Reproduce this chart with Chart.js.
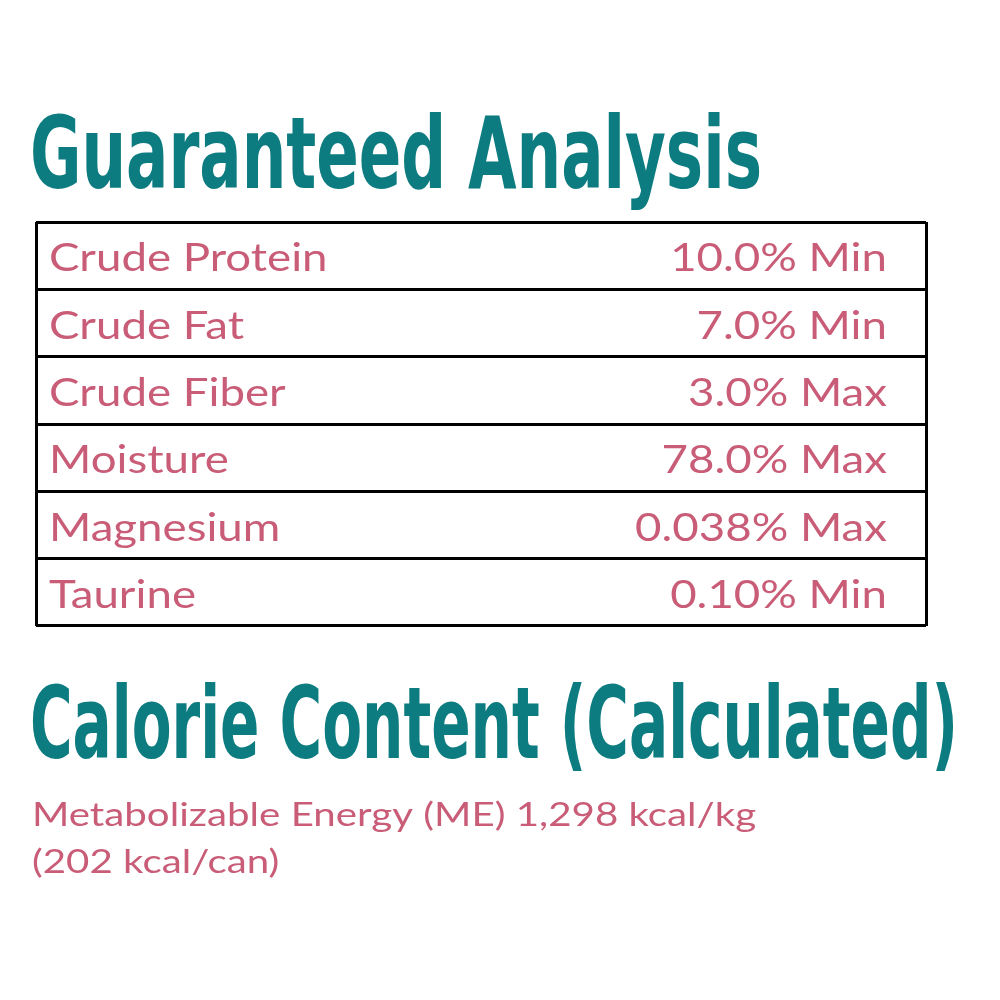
<!DOCTYPE html>
<html>
<head>
<meta charset="utf-8">
<script src="https://cdn.jsdelivr.net/npm/chart.js@4"></script>
<style>
  html, body { margin: 0; padding: 0; background: #fff; }
  #wrap { width: 1000px; height: 1000px; }
</style>
</head>
<body>
<div id="wrap"><canvas id="panel"></canvas></div>
<script>
var title = "Guaranteed Analysis";
var subtitle = "Calorie Content (Calculated)";
var nutrients = ["Crude Protein", "Crude Fat", "Crude Fiber", "Moisture", "Magnesium", "Taurine"];
var amounts = ["10.0% Min", "7.0% Min", "3.0% Max", "78.0% Max", "0.038% Max", "0.10% Min"];
var energyLines = ["Metabolizable Energy (ME) 1,298 kcal/kg", "(202 kcal/can)"];

var teal = "#0d7c80";
var rose = "#c95c77";

// draw a heading squeezed to a target width
function fitText(ctx, txt, x, y, size, width) {
    ctx.save();
    ctx.font = "bold " + size + "px 'DejaVu Sans Condensed', 'DejaVu Sans'";
    var w = ctx.measureText(txt).width;
    ctx.translate(x, y);
    ctx.scale(width / w, 1);
    ctx.fillStyle = teal;
    ctx.textBaseline = "alphabetic";
    ctx.fillText(txt, 0, 0);
    ctx.restore();
}

// text stretched sideways by sx, anchored at x
function wideText(ctx, txt, x, y, sx, align) {
    ctx.save();
    ctx.translate(x, y);
    ctx.scale(sx, 1);
    ctx.textAlign = align;
    ctx.fillText(txt, 0, 0);
    ctx.restore();
}

const tableText = {
    id: "tableText",
    afterDraw(chart) {
        var ctx = chart.ctx;
        var yScale = chart.scales.y;
        var area = chart.chartArea;
        ctx.save();
        ctx.fillStyle = rose;
        ctx.font = "39px Lato";
        ctx.textBaseline = "middle";
        for (let i = 0; i < nutrients.length; i++) {
            let y = yScale.getPixelForValue(i) + 3;
            wideText(ctx, nutrients[i], area.left + 13, y, 1.17, "left");
            wideText(ctx, amounts[i], 887, y, 1.17, "right");
        }
        ctx.font = "33px Lato";
        ctx.textBaseline = "alphabetic";
        wideText(ctx, energyLines[0], 32, 826, 1.22, "left");
        wideText(ctx, energyLines[1], 32, 873, 1.22, "left");
        ctx.restore();

        fitText(ctx, title, 30, 188, 100, 732);
        fitText(ctx, subtitle, 30, 758, 100, 928);
    }
};

new Chart(document.getElementById("panel").getContext("2d"), {
    type: "bar",
    data: {
        labels: nutrients,
        datasets: [{ data: nutrients.map(() => null) }]
    },
    options: {
        indexAxis: "y",
        responsive: true,
        maintainAspectRatio: false,
        animation: false,
        layout: { padding: { left: 36, right: 74, top: 222, bottom: 374 } },
        plugins: { legend: { display: false }, tooltip: { enabled: false } },
        scales: {
            x: {
                type: "linear", min: 0, max: 1,
                afterBuildTicks: (axis) => { axis.ticks = [{ value: 0 }, { value: 1 }]; },
                ticks: { display: false },
                border: { display: false },
                grid: { color: "#000", lineWidth: 3, drawTicks: false }
            },
            y: {
                type: "category",
                offset: true,
                ticks: { display: false },
                border: { display: false },
                grid: { offset: true, color: "#000", lineWidth: 3, drawTicks: false }
            }
        }
    },
    plugins: [tableText]
});
</script>
</body>
</html>
